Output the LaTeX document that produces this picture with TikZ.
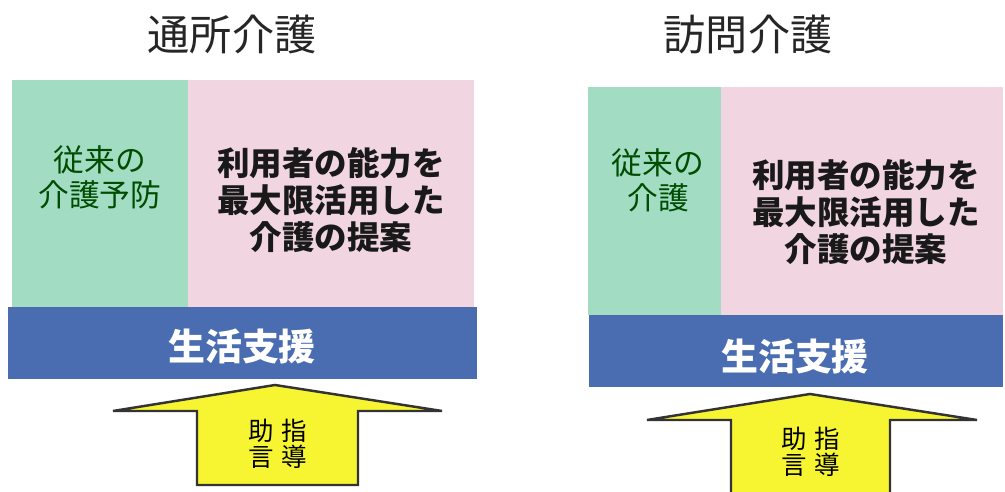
\documentclass[tikz,border=0pt]{standalone}
\usepackage{fontspec}
\newfontfamily\cjk{Noto Sans CJK JP}
\begin{document}
\begin{tikzpicture}[x=0.02cm,y=-0.02cm,
  title/.style={font=\cjk\fontsize{24}{28}\selectfont, text=black!85},
  greentext/.style={font=\cjk\fontsize{17.5}{20}\selectfont, text=green!30!black, align=center},
  pinktext/.style={font=\cjk\bfseries\fontsize{18.5}{21}\selectfont, text=black!90, align=center},
  bluetext/.style={font=\cjk\bfseries\fontsize{21}{25}\selectfont, text=white},
  arrowtext/.style={font=\cjk\fontsize{14.5}{14.5}\selectfont, text=black, align=center},
  arrowshape/.style={fill=arrowyellow, draw=black!80, line width=1.4pt, line join=miter}]
\definecolor{boxgreen}{HTML}{A2DCC3}
\definecolor{boxpink}{HTML}{F1D5E1}
\definecolor{boxblue}{HTML}{4A6DB2}
\definecolor{arrowyellow}{HTML}{F7F532}
\useasboundingbox (0,0) rectangle (1005,492);
\clip (0,0) rectangle (1005,492);
\fill[white] (0,0) rectangle (1005,492);

% ---------- left panel ----------
\node[title] (t1) at (232,35) {通所介護};
\fill[boxgreen] (12,80) rectangle (188,307);
\fill[boxpink] (188,80) rectangle (474,307);
\fill[boxblue] (8,307) rectangle (477,379);
\node[greentext] (g1) at (100,177) {従来の\\介護予防};
\node[pinktext] (p1) at (331,200) {利用者の能力を\\最大限活用した\\介護の提案};
\node[bluetext] (b1) at (242,346) {生活支援};
\draw[arrowshape] (275,385) -- (442,411) -- (358,411) -- (358,485) -- (197,485) -- (197,411) -- (113,411) -- cycle;
\node[arrowtext] (a1) at (278,444) {助\hspace{0.3em}指\\言\hspace{0.3em}導};

% ---------- right panel ----------
\node[title] (t2) at (748,35) {訪問介護};
\fill[boxgreen] (588,87) rectangle (721,315);
\fill[boxpink] (721,87) rectangle (1003,315);
\fill[boxblue] (589,315) rectangle (1003,387);
\node[greentext] (g2) at (658,180) {従来の\\介護};
\node[pinktext] (p2) at (866,212) {利用者の能力を\\最大限活用した\\介護の提案};
\node[bluetext] (b2) at (795,356) {生活支援};
\draw[arrowshape] (810,394) -- (977,420) -- (890,420) -- (890,505) -- (731,505) -- (731,420) -- (647,420) -- cycle;
\node[arrowtext] (a2) at (811,452) {助\hspace{0.3em}指\\言\hspace{0.3em}導};
\end{tikzpicture}
\end{document}
